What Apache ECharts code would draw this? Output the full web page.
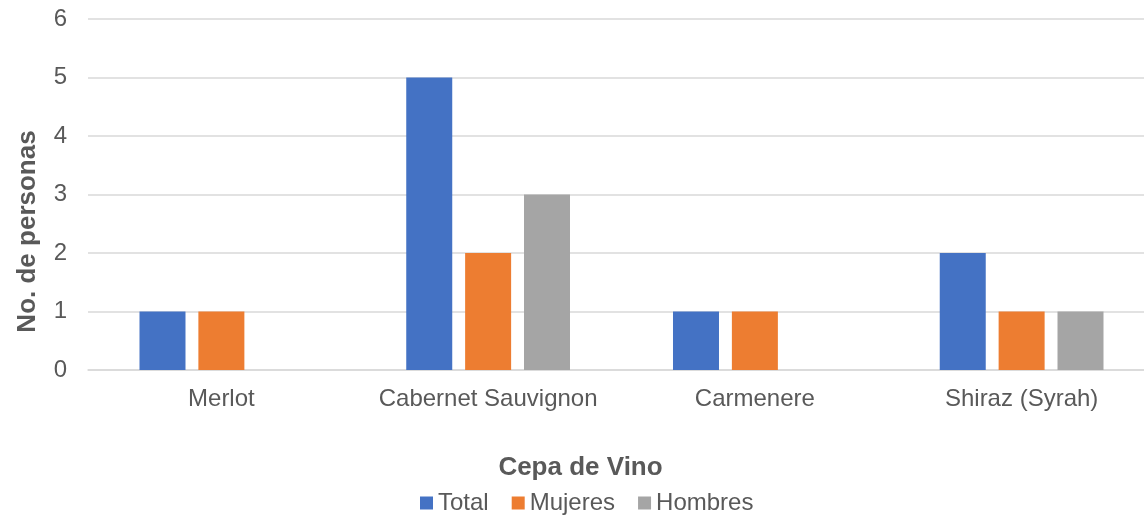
<!DOCTYPE html>
<html lang="es">
<head>
    <meta charset="UTF-8">
    <title>Cepa de Vino</title>
    <script type="text/javascript" src="https://cdn.jsdelivr.net/npm/echarts@6/dist/echarts.min.js"></script>
    <style>
        html, body { margin: 0; padding: 0; background: #fff; }
    </style>
</head>
<body>
<div id="main" style="width: 1144px;height:516px;"></div>
<script type="text/javascript">
    var cepas = ['Merlot', 'Cabernet Sauvignon', 'Carmenere', 'Shiraz (Syrah)'];
    var total = [1, 5, 1, 2];
    var mujeres = [1, 2, 1, 1];
    var hombres = [0, 3, 0, 1];

    var myChart = echarts.init(document.getElementById('main'));
    var font = 'Liberation Sans, Arial, sans-serif';

    myChart.setOption({
        animation: false,
        textStyle: { fontFamily: font },
        grid: { left: 88, width: 1067, top: 19, height: 351, outerBoundsMode: 'none' },
        legend: {
            bottom: 1,
            padding: 0,
            left: 420,
            itemWidth: 13,
            itemHeight: 13,
            itemGap: 23,
            icon: 'rect',
            textStyle: { fontSize: 24, color: '#595959', fontFamily: font },
            data: ['Total', 'Mujeres', 'Hombres']
        },
        xAxis: {
            type: 'category',
            data: cepas,
            name: 'Cepa de Vino',
            nameLocation: 'middle',
            nameGap: 85,
            // título desplazado a la izquierda como en el original
            nameTextStyle: { fontSize: 26, fontWeight: 'bold', color: '#595959', padding: [0, 82, 0, 0] },
            axisTick: { show: false },
            axisLine: { lineStyle: { color: '#d9d9d9', width: 1.5 } },
            axisLabel: { fontSize: 24, color: '#595959', margin: 17, interval: 0 }
        },
        yAxis: {
            type: 'value',
            min: 0,
            max: 6,
            interval: 1,
            name: 'No. de personas',
            nameLocation: 'middle',
            nameGap: 47,
            nameTextStyle: { fontSize: 26, fontWeight: 'bold', color: '#595959', padding: [0, 74, 0, 0] },
            axisLabel: { fontSize: 24, color: '#595959', margin: 21 },
            splitLine: { lineStyle: { color: '#d9d9d9', width: 1.5 } }
        },
        series: [
            { name: 'Total', type: 'bar', data: total, barWidth: 46, barGap: '28%', itemStyle: { color: '#4472C4' } },
            { name: 'Mujeres', type: 'bar', data: mujeres, barWidth: 46, barGap: '28%', itemStyle: { color: '#ED7D31' } },
            { name: 'Hombres', type: 'bar', data: hombres, barWidth: 46, barGap: '28%', itemStyle: { color: '#A5A5A5' } }
        ]
    });
</script>
</body>
</html>
